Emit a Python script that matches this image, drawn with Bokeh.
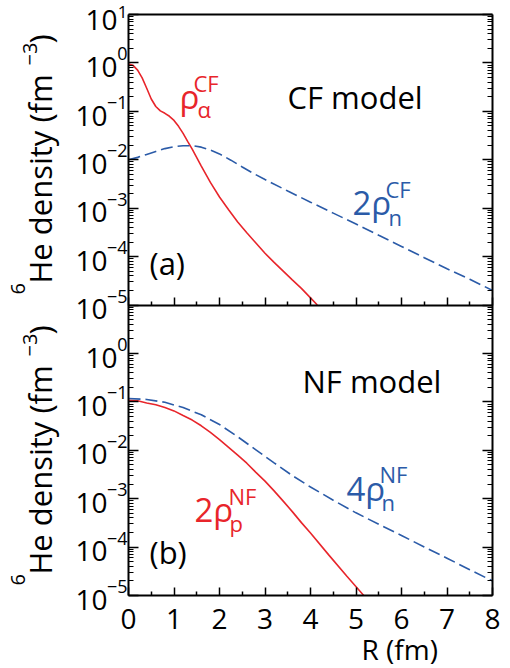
from bokeh.plotting import figure
from bokeh.models import (Range1d, LogScale, LogAxis, LinearAxis, FixedTicker,
                          Label, CustomJSTickFormatter)
from bokeh.embed import file_html
from bokeh.resources import INLINE

# ---- (a) CF model: alpha-core density and doubled neutron density (fm^-3)
r_alpha_cf = [0.0, 0.1, 0.2, 0.3, 0.4, 0.5, 0.6, 0.7, 0.8, 0.9, 1.0, 1.1, 1.2, 1.3,
              1.4, 1.6, 1.8, 2.0, 2.2, 2.4, 2.6, 2.8, 3.0, 3.2, 3.4, 3.6, 3.8, 4.0, 4.15]
rho_alpha_cf = [0.95, 0.89, 0.71, 0.49, 0.30, 0.18, 0.126, 0.102, 0.091, 0.079, 0.065,
                0.049, 0.035, 0.024, 0.0166, 7.4e-3, 3.4e-3, 1.7e-3, 9.3e-4, 5.2e-4,
                3.1e-4, 1.9e-4, 1.17e-4, 7.6e-5, 5.0e-5, 3.3e-5, 2.2e-5, 1.4e-5, 1.0e-5]

r_n_cf = [0.0, 0.2, 0.4, 0.6, 0.8, 1.0, 1.2, 1.4, 1.6, 1.8, 2.0, 2.25, 2.5, 2.75, 3.0,
          3.5, 4.0, 4.5, 5.0, 5.5, 6.0, 6.5, 7.0, 7.5, 8.0]
rho_n_cf = [0.0100, 0.0112, 0.0129, 0.0148, 0.0170, 0.0186, 0.0195, 0.0195, 0.0182,
            0.0158, 0.0132, 9.8e-3, 7.1e-3, 5.2e-3, 3.9e-3, 2.26e-3, 1.33e-3, 7.9e-4,
            4.7e-4, 2.75e-4, 1.62e-4, 9.5e-5, 5.6e-5, 3.4e-5, 2.0e-5]

# ---- (b) NF model: 2x proton and 4x neutron densities (fm^-3)
r_p_nf = [0.0, 0.2, 0.4, 0.6, 0.8, 1.0, 1.2, 1.4, 1.6, 1.8, 2.0, 2.2, 2.4, 2.6, 2.8,
          3.0, 3.2, 3.4, 3.6, 3.8, 4.0, 4.4, 4.8, 5.17]
rho_p_nf = [0.107, 0.105, 0.095, 0.087, 0.076, 0.065, 0.052, 0.042, 0.032, 0.0234,
            0.0166, 0.0115, 7.9e-3, 5.4e-3, 3.5e-3, 2.3e-3, 1.45e-3, 8.9e-4, 5.4e-4,
            3.2e-4, 1.95e-4, 6.9e-5, 2.5e-5, 1.0e-5]

r_n_nf = [0.0, 0.4, 0.8, 1.2, 1.6, 2.0, 2.4, 2.8, 3.2, 3.6, 4.0, 4.5, 5.0, 5.5, 6.0,
          6.5, 7.0, 7.5, 8.0]
rho_n_nf = [0.117, 0.112, 0.098, 0.076, 0.054, 0.034, 0.019, 0.0102, 5.5e-3, 3.0e-3,
            1.74e-3, 9.3e-4, 5.1e-4, 2.95e-4, 1.74e-4, 1.0e-4, 5.9e-5, 3.4e-5, 2.0e-5]

# ---- axis ticks
x_ticks = [0, 1, 2, 3, 4, 5, 6, 7, 8]
x_minor = [0.5, 1.5, 2.5, 3.5, 4.5, 5.5, 6.5, 7.5]
top_exps = [1, 0, -1, -2, -3, -4, -5]
bottom_exps = [0, -1, -2, -3, -4, -5]

RED = "#E8252B"
BLUE = "#2B5BA8"
FONT = "Open Sans"
RAISE = 0.385   # shifts label text so that the given point lies on its baseline

# ---- page geometry: the plotting area covers the whole canvas, and the two
# panels (six decades each) are framed by axes fixed at their edges
W, H = 510, 668
FL, FR, FT, FB = 128.0, 492.0, 14.0, 595.0
PX_R = (FR - FL) / 8.0            # pixels per fm
PX_DEC = (FB - FT) / 12.0         # pixels per decade
x_range = Range1d(-FL / PX_R, 8.0 + (W - FR) / PX_R)
lo = -5.0 - (H - FB) / PX_DEC
hi = 7.0 + FT / PX_DEC
y_bottom = Range1d(10.0 ** lo, 10.0 ** hi)             # panel (b) values
y_top = Range1d(10.0 ** (lo - 6), 10.0 ** (hi - 6))    # panel (a) values

p = figure(width=W, height=H, output_backend="svg", toolbar_location=None,
           x_range=x_range, y_range=y_bottom, y_axis_type="log",
           min_border=0, min_border_left=0, min_border_right=0,
           min_border_top=0, min_border_bottom=0)
p.extra_y_ranges = {"top": y_top}
p.extra_y_scales = {"top": LogScale()}
p.grid.visible = False
p.outline_line_color = None
p.background_fill_color = "white"
p.border_fill_color = "white"

decades = [10.0 ** e for e in range(-5, 8)]
minors = [k * 10.0 ** e for e in range(-5, 7) for k in range(2, 10)]
blank = CustomJSTickFormatter(code="return ''")


def style_y(ax, at):
    ax.fixed_location = at
    ax.bounds = (1e-5, 1e7)
    ax.ticker = FixedTicker(ticks=decades, minor_ticks=minors)
    ax.formatter = blank
    ax.major_label_standoff = 0
    ax.major_tick_in = 10
    ax.major_tick_out = 0
    ax.minor_tick_in = 5
    ax.minor_tick_out = 0
    ax.axis_line_width = 2
    ax.major_tick_line_width = 1.5
    ax.minor_tick_line_width = 1


def style_x(ax, at):
    ax.fixed_location = at
    ax.bounds = (0, 8)
    ax.ticker = FixedTicker(ticks=x_ticks, minor_ticks=x_minor)
    ax.major_tick_in = 8
    ax.major_tick_out = 0
    ax.minor_tick_in = 4
    ax.minor_tick_out = 0
    ax.axis_line_width = 2
    ax.major_tick_line_width = 1.5
    ax.minor_tick_line_width = 1.5


style_y(p.yaxis[0], 0.0)
right = LogAxis()
style_y(right, 8.0)
p.add_layout(right, "right")

# R axis of panel (b), with the numbers
style_x(p.xaxis[0], 1e-5)
p.xaxis[0].major_label_text_font = FONT
p.xaxis[0].major_label_text_font_size = "28px"
p.xaxis[0].major_label_text_color = "black"
p.xaxis[0].major_label_standoff = 13

# R axis of panel (a): the boundary between the panels
mid = LinearAxis()
style_x(mid, 1e1)
mid.formatter = blank
mid.major_label_standoff = 0
p.add_layout(mid, "below")

# top edge of panel (a)
top = LinearAxis()
style_x(top, 1e7)
top.formatter = blank
top.major_tick_in = 0
top.minor_tick_in = 0
top.major_label_standoff = 0
p.add_layout(top, "above")

# curves
p.line(r_alpha_cf, rho_alpha_cf, y_range_name="top", line_color=RED, line_width=1.6)
p.line(r_n_cf, rho_n_cf, y_range_name="top", line_color=BLUE, line_width=1.6,
       line_dash="12 5")
p.line(r_p_nf, rho_p_nf, line_color=RED, line_width=1.6)
p.line(r_n_nf, rho_n_nf, line_color=BLUE, line_width=1.6, line_dash="12 5")


# y tick labels: "10" with a raised exponent, anchored at each decade
def tick_labels(exps, range_name):
    for e in exps:
        ex = str(e).replace("-", "\u2212")
        at_top = range_name == "top" and e == exps[0]
        base_drop = 16 if at_top else 15
        exp_size = 17 if at_top else 18
        exp_rise = -4 if at_top else 2
        p.add_layout(Label(x=0, y=10.0 ** e, y_range_name=range_name, text="10",
                           x_offset=-11 if e >= 0 else -21,
                           y_offset=-base_drop + RAISE * 28,
                           text_align="right", text_baseline="alphabetic",
                           text_font=FONT, text_font_size="28px", text_color="black"))
        p.add_layout(Label(x=0, y=10.0 ** e, y_range_name=range_name, text=ex,
                           x_offset=-1, y_offset=exp_rise + RAISE * exp_size,
                           text_align="right", text_baseline="alphabetic",
                           text_font=FONT, text_font_size=f"{exp_size}px",
                           text_color="black"))


tick_labels(top_exps, "top")
tick_labels(bottom_exps, "default")


# free text placed in pixels from the lower-left corner of panel (b);
# (x, y) is the start of the baseline, horizontal or running upwards
def put(text, x, y, size, color="black", angle=0.0):
    if angle == 0:
        dx, dy = 0.0, RAISE * size
    else:
        dx, dy = -RAISE * size, 0.0
    p.add_layout(Label(x=0, y=1e-5, x_offset=x - FL + dx, y_offset=FB - y + dy,
                       text=text, text_font=FONT, text_font_size=f"{size}px",
                       text_color=color, text_align="left",
                       text_baseline="alphabetic", angle=angle, angle_units="deg"))


# panel (a)
put("CF model", 287, 108, 31)
put("(a)", 149, 274, 31)
put("\u03c1", 179, 109, 33, RED)
put("\u03b1", 197, 117, 22, RED)
put("CF", 193, 91, 22, RED)
put("2\u03c1", 352, 215, 33, BLUE)
put("n", 388, 225, 22, BLUE)
put("CF", 385, 197, 22, BLUE)

# panel (b)
put("NF model", 302, 392, 31)
put("(b)", 149, 563, 31)
put("2\u03c1", 194, 522, 33, RED)
put("p", 229, 531, 22, RED)
put("NF", 228, 504, 22, RED)
put("4\u03c1", 346, 501, 33, BLUE)
put("n", 381, 510, 22, BLUE)
put("NF", 379, 482, 22, BLUE)

# x axis title
put("R  (fm)", 361, 659, 28)

# rotated y axis titles, one per panel
for shift in (0, 291):
    put("6", 25, 294 + 291 - shift, 20, angle=90)
    put("He density (fm", 51, 283 + 291 - shift, 31, angle=90)
    put("\u22123", 37, 65 + 291 - shift, 20, angle=90)
    put(")", 51, 43 + 291 - shift, 31, angle=90)

open("out.html", "w").write(file_html(p, INLINE))
